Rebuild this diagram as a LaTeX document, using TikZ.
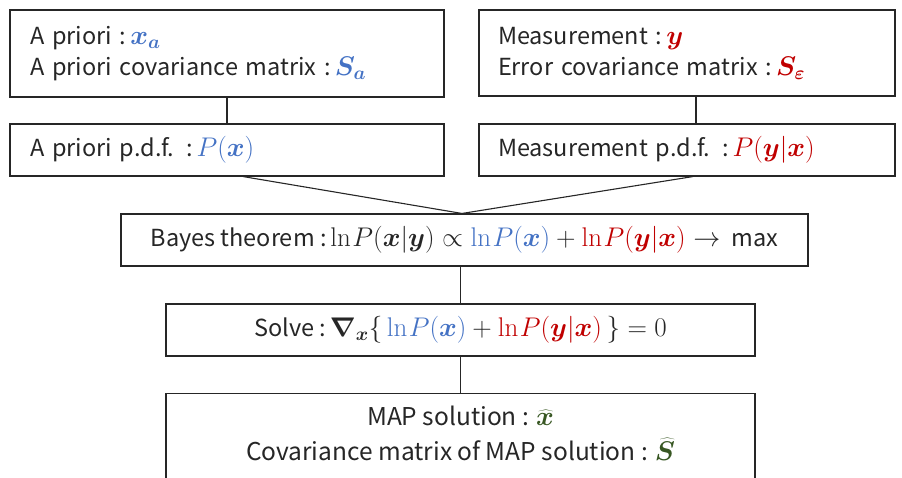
\RequirePackage{fix-cm}
\documentclass[tikz,border=0pt]{standalone}
\usepackage[no-math]{fontspec}
\setmainfont{Noto Sans CJK JP}
\usepackage{bm}
\definecolor{cb}{HTML}{4472C4}
\definecolor{cr}{HTML}{C00000}
\definecolor{cg}{HTML}{385723}
\newcommand{\mth}[1]{{\fontsize{27}{31}\selectfont$#1$}}
\newcommand{\lnP}{\mathrm{ln}\mkern1mu P}
\begin{document}
\begin{tikzpicture}[x=1pt,y=-1pt,
  font=\fontsize{23.5}{31}\selectfont,
  box/.style={draw=black!85, line width=1.1pt, rectangle, inner ysep=0pt},
  lbox/.style={box, align=left, text=black!85},
  cbox/.style={box, align=center, inner xsep=0pt, text=black!85},
  conn/.style={draw=black!85, line width=1.1pt}]
\clip (0,0) rectangle (902,477);
\node[lbox, minimum height=87pt, inner xsep=20pt, text width=394pt] (apr) at (227,53.5)
  {A priori :\,\mth{\color{cb}\bm{x}_{\bm{a}}}\\A priori covariance matrix :\,\mth{\color{cb}\bm{S}_{\bm{a}}}};
\node[lbox, minimum height=86pt, inner xsep=19pt, text width=378pt] (meas) at (687,53)
  {Measurement :\,\mth{\color{cr}\bm{y}}\\Error covariance matrix :\,\mth{\color{cr}\bm{S}_{\bm{\varepsilon}}}};
\node[lbox, minimum height=52pt, inner xsep=20pt, text width=394pt] (aprpdf) at (227,150)
  {A priori p.d.f. :\,\mth{\color{cb}P(\bm{x})}};
\node[lbox, minimum height=52pt, inner xsep=19pt, text width=378pt] (mpdf) at (687,150)
  {Measurement p.d.f. :\,\mth{\color{cr}P(\bm{y}|\bm{x})}};
\node[cbox, minimum height=52pt, minimum width=687pt] (bayes) at (464.5,240)
  {Bayes theorem :\,\mth{\lnP(\bm{x}|\bm{y})\propto{\color{cb}\lnP(\bm{x})}+{\color{cr}\lnP(\bm{y}|\bm{x})}\rightarrow{}}\,max};
\node[cbox, minimum height=52pt, minimum width=589pt] (solve) at (460.5,330)
  {Solve :\,\mth{\bm{\nabla}_{\bm{x}}\{\,{\color{cb}\lnP(\bm{x})}+{\color{cr}\lnP(\bm{y}|\bm{x})}\,\}=0}};
\node[cbox, minimum height=110pt, minimum width=589pt, anchor=north] (map) at (460.5,393) {};
\node[align=center, inner sep=0pt, text=black!85, font=\fontsize{24.5}{35}\selectfont] (maptext) at (460.5,433)
  {MAP solution :\;\mth{\color{cg}\widehat{\bm{x}}}\\Covariance matrix of MAP solution :\;\mth{\color{cg}\widehat{\bm{S}}}};
\draw[conn] (apr) -- (aprpdf);
\draw[conn] ([xshift=9pt]meas.south) -- ([xshift=9pt]mpdf.north);
\draw[conn] ([xshift=16pt]aprpdf.south) -- ([xshift=-2.5pt]bayes.north);
\draw[conn] ([xshift=6pt]mpdf.south) -- ([xshift=-2.5pt]bayes.north);
\draw[conn] (solve.north |- bayes.south) -- (solve.north);
\draw[conn] (solve.south) -- (map.north);
\end{tikzpicture}
\end{document}
